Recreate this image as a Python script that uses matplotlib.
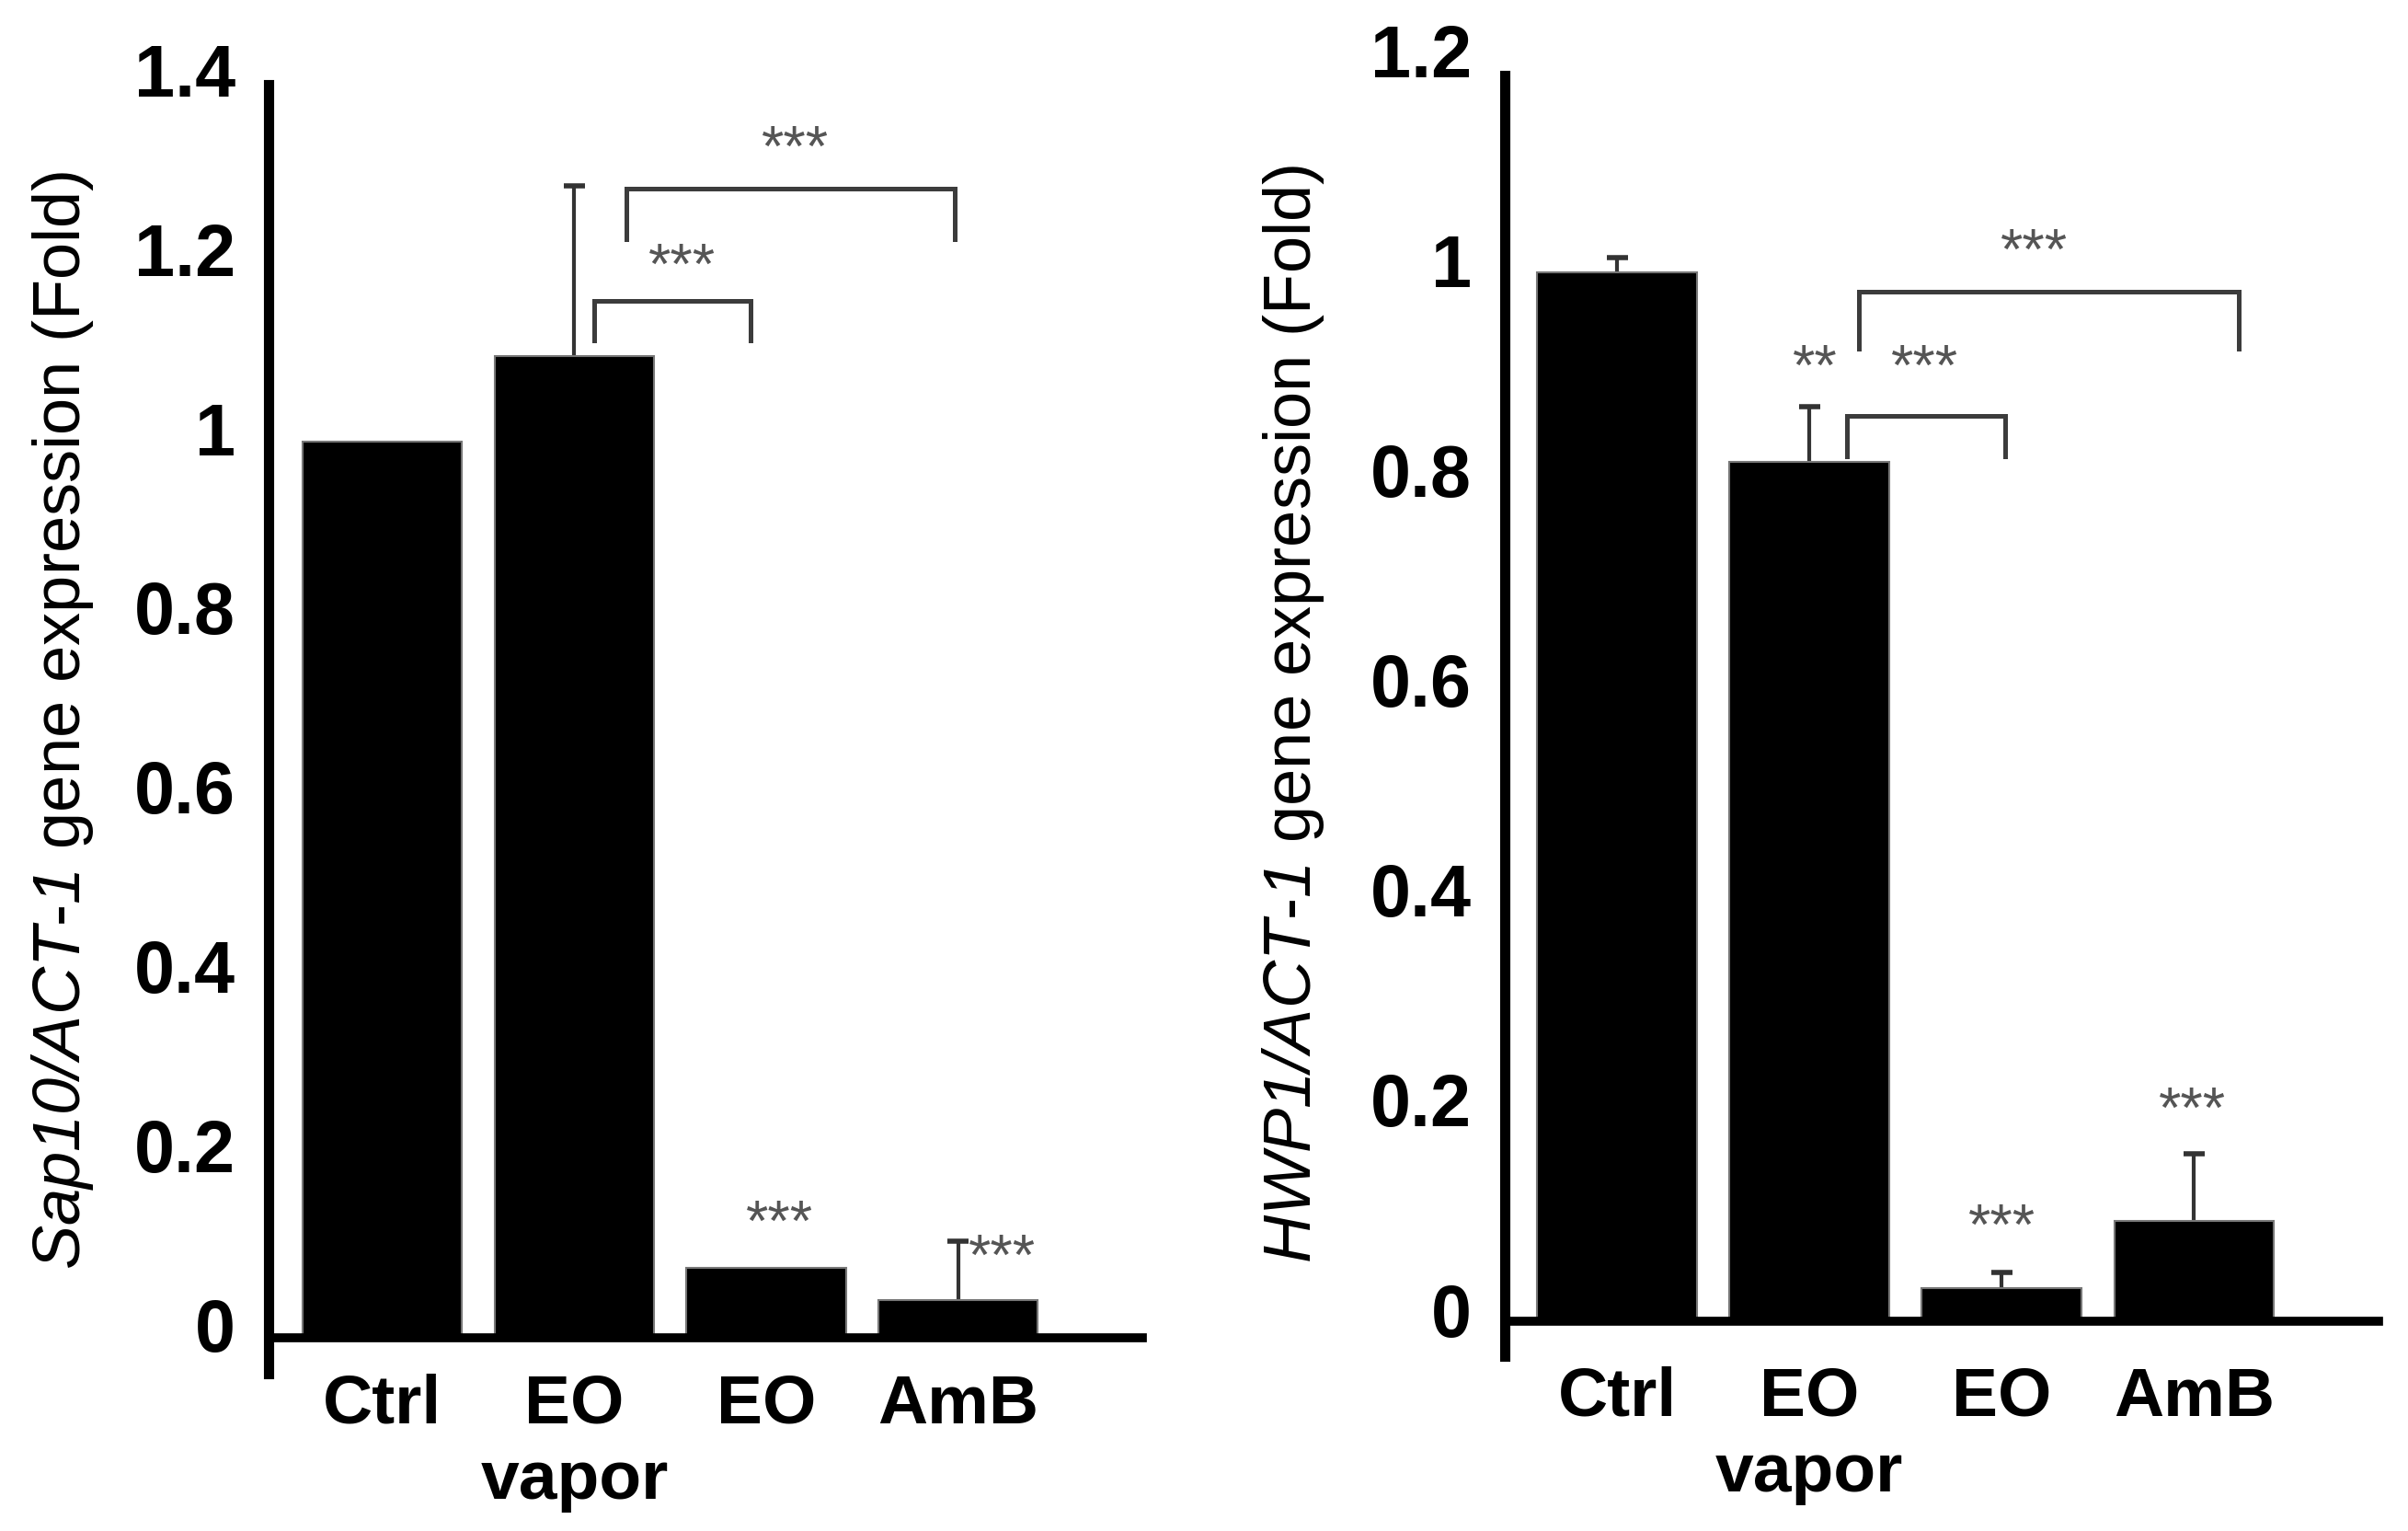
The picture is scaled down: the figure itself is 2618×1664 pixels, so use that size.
import numpy as np
import matplotlib
matplotlib.use("Agg")
import matplotlib.pyplot as plt
import matplotlib.transforms as mtransforms

plt.rcParams['font.family'] = ['Liberation Sans', 'DejaVu Sans']
plt.rcParams['mathtext.fontset'] = 'custom'
plt.rcParams['mathtext.rm'] = 'Liberation Sans:italic'
plt.rcParams['mathtext.it'] = 'Liberation Sans:italic'

groups = ["Ctrl", "EO\nvapor", "EO", "AmB"]

# left panel: Sap10
sap_vals = [1.0, 1.095, 0.078, 0.042]
sap_err = [0.0, 0.19, 0.0, 0.066]
sap_ticks = [0, 0.2, 0.4, 0.6, 0.8, 1.0, 1.2, 1.4]
sap_ticklabels = ["0", "0.2", "0.4", "0.6", "0.8", "1", "1.2", "1.4"]
# brackets: (x_left, x_right, y_top, y_bottom)
sap_brackets = [(1.105, 1.92, 1.157, 1.113), (1.27, 2.98, 1.282, 1.226)]
# star labels: (x, y, text)
sap_stars = [(1.56, 1.214, "***"), (2.15, 1.345, "***"),
             (2.07, 0.147, "***"), (3.23, 0.109, "***")]

# right panel: HWP1
hwp_vals = [1.0, 0.819, 0.032, 0.096]
hwp_err = [0.014, 0.053, 0.015, 0.064]
hwp_ticks = [0, 0.2, 0.4, 0.6, 0.8, 1.0, 1.2]
hwp_ticklabels = ["0", "0.2", "0.4", "0.6", "0.8", "1", "1.2"]
hwp_brackets = [(1.196, 2.02, 0.863, 0.825), (1.258, 3.234, 0.982, 0.927)]
hwp_stars = [(1.03, 0.925, "**"), (1.60, 0.925, "***"), (2.17, 1.036, "***"),
             (2.0, 0.106, "***"), (2.99, 0.218, "***")]

fig = plt.figure(figsize=(26.18, 16.65), dpi=100)


def panel(rect, vals, err, ticks, ticklabels, brackets, stars, ylabel,
          xlim, ylim, spine_top, label_xy, xpad, ylift):
    ax = fig.add_axes(rect)
    x = np.arange(len(vals))
    vals = np.array(vals)
    err = np.array(err)
    ax.bar(x, vals, width=0.83, color="black", edgecolor="#777777",
           linewidth=1.5, zorder=2)
    has = err > 0
    ax.vlines(x[has], vals[has], vals[has] + err[has], color="#333333",
              lw=3, zorder=1)
    ax.hlines(vals[has] + err[has], x[has] - 0.055, x[has] + 0.055,
              color="#333333", lw=4, zorder=1)
    for xl, xr, yt, yb in brackets:
        ax.plot([xl, xl, xr, xr], [yb, yt, yt, yb], color="#3c3c3c",
                lw=3.6, solid_joinstyle="miter", zorder=3)
    for sx, sy, s in stars:
        ax.annotate(s, (sx, sy), xytext=(0, -0.57 * 45), textcoords="offset points",
                    ha="center", va="baseline", fontsize=45, color="#555555")
    ax.set_xlim(*xlim)
    ax.set_ylim(*ylim)
    ax.spines["top"].set_visible(False)
    ax.spines["right"].set_visible(False)
    ax.spines["left"].set_linewidth(8)
    ax.spines["left"].set_bounds(ylim[0], spine_top)
    ax.spines["bottom"].set_position(("data", 0))
    ax.spines["bottom"].set_linewidth(7)
    ax.spines["left"].set_zorder(4)
    ax.spines["bottom"].set_zorder(4)
    ax.set_yticks(ticks)
    ax.set_yticklabels(ticklabels, fontsize=57, fontweight="bold")
    ax.set_xticks(x)
    ax.set_xticklabels(groups, fontsize=54, fontweight="bold", linespacing=1.25)
    ax.tick_params(axis="y", length=0, pad=26)
    ax.tick_params(axis="x", length=0, pad=xpad)
    lift = mtransforms.ScaledTranslation(0, ylift / 72, fig.dpi_scale_trans)
    for lab in ax.get_yticklabels():
        lab.set_transform(lab.get_transform() + lift)
    fig.text(label_xy[0], label_xy[1], ylabel, rotation=90, ha="center",
             va="center", fontsize=52)
    return ax


panel([0.1115, 0.1027, 0.3629, 0.8426], sap_vals, sap_err, sap_ticks,
      sap_ticklabels, sap_brackets, sap_stars,
      r"$\mathrm{Sap10/ACT}$-$\mathrm{1}$ gene expression (Fold)",
      (-0.594, 3.96), (-0.04, 1.4), 1.398, (0.026, 0.53), 27, 11)

panel([0.6249, 0.1141, 0.3629, 0.8445], hwp_vals, hwp_err, hwp_ticks,
      hwp_ticklabels, hwp_brackets, hwp_stars,
      r"$\mathrm{HWP1/ACT}$-$\mathrm{1}$ gene expression (Fold)",
      (-0.584, 3.96), (-0.033, 1.2), 1.188, (0.537, 0.534), 34, 10)

fig.savefig("out.png", dpi=100, facecolor="white")
